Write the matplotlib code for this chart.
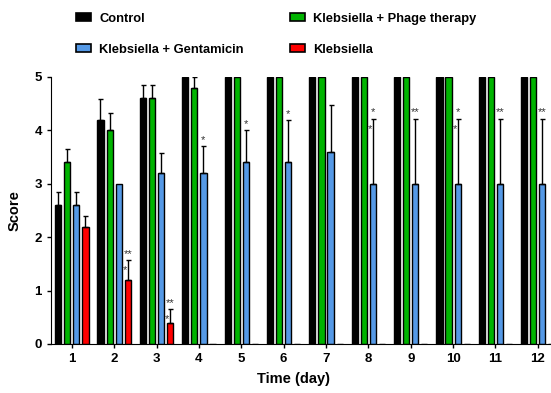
import numpy as np
import matplotlib
matplotlib.use('Agg')
import matplotlib.pyplot as plt
from matplotlib.patches import Patch

plt.rcParams['font.family'] = ['Liberation Sans', 'DejaVu Sans']
plt.rcParams['font.weight'] = 'bold'

days = np.arange(1, 13)

control = [2.6, 4.2, 4.6, 5, 5, 5, 5, 5, 5, 5, 5, 5]
control_err = [0.25, 0.38, 0.25, 0, 0, 0, 0, 0, 0, 0, 0, 0]
phage = [3.4, 4.0, 4.6, 4.8, 5, 5, 5, 5, 5, 5, 5, 5]
phage_err = [0.25, 0.33, 0.25, 0.2, 0, 0, 0, 0, 0, 0, 0, 0]
gent = [2.6, 3.0, 3.2, 3.2, 3.4, 3.4, 3.6, 3.0, 3.0, 3.0, 3.0, 3.0]
gent_err = [0.25, 0, 0.38, 0.5, 0.6, 0.8, 0.87, 1.22, 1.22, 1.22, 1.22, 1.22]
kleb = [2.2, 1.2, 0.4, 0, 0, 0, 0, 0, 0, 0, 0, 0]
kleb_err = [0.2, 0.37, 0.25, 0, 0, 0, 0, 0, 0, 0, 0, 0]

labels = ['Control', 'Klebsiella + Phage therapy', 'Klebsiella + Gentamicin', 'Klebsiella']
colors = ['#000000', '#00b400', '#5599e6', '#ff0000']

# significance marks: (day, series index, text above, text beside)
ann_day = [2, 3, 4, 5, 6, 8, 9, 10, 11, 12]
ann_series = [3, 3, 2, 2, 2, 2, 2, 2, 2, 2]
ann_top = ['**', '**', '*', '*', '*', '*', '**', '*', '**', '**']
ann_side = ['*', '*', '', '', '', '*', '', '*', '', '']

fig = plt.figure(figsize=(5.51, 3.93), dpi=100)
ax = fig.add_axes([0.0926, 0.1247, 0.9074, 0.6794])

slot = 0.215
width = 0.145
vals = [control, phage, gent, kleb]
errs = [control_err, phage_err, gent_err, kleb_err]
offsets = [-1.5, -0.5, 0.5, 1.5]

for v, e, c, off in zip(vals, errs, colors, offsets):
    x = days + off * slot
    ax.bar(x, v, width, color=c, edgecolor='black', linewidth=1, zorder=2)
    e = np.array(e)
    m = e > 0
    ax.errorbar(x[m], np.array(v)[m], yerr=[np.zeros(m.sum()), e[m]], fmt='none',
                ecolor='black', elinewidth=1, capsize=1.8, capthick=1, zorder=3)

for d, s, top, side in zip(ann_day, ann_series, ann_top, ann_side):
    x = d + offsets[s] * slot
    ytop = vals[s][d - 1] + errs[s][d - 1]
    ax.text(x, ytop + 0.02, top, ha='center', va='bottom', fontsize=8,
            fontweight='normal', color='#333333')
    if side:
        ax.text(x - 0.07, ytop - 0.28, side, ha='center', va='bottom', fontsize=8,
                fontweight='normal', color='#333333')

ax.set_xlim(0.51, 12.31)
ax.set_ylim(0, 5)
ax.set_xticks(days)
ax.set_yticks([0, 1, 2, 3, 4, 5])
ax.tick_params(labelsize=9.5, width=1, length=3)
ax.spines['top'].set_visible(False)
ax.spines['right'].set_visible(False)
ax.set_xlabel('Time (day)', fontsize=10.5, fontweight='bold', labelpad=6)
ax.xaxis.set_label_coords(0.484, -0.105)
ax.set_ylabel('Score', fontsize=10.5, fontweight='bold', labelpad=9)

handles = [Patch(facecolor=colors[i], edgecolor='black', linewidth=1.2) for i in [0, 2, 1, 3]]
hl = [labels[i] for i in [0, 2, 1, 3]]
fig.legend(handles, hl, ncol=2, loc='upper left', bbox_to_anchor=(0.117, 0.997),
           frameon=False, prop={'size': 9.3, 'weight': 'bold'},
           handlelength=1.15, handleheight=0.6, handletextpad=0.65,
           labelspacing=1.45, columnspacing=3.55)

fig.savefig('out.png', dpi=100)
